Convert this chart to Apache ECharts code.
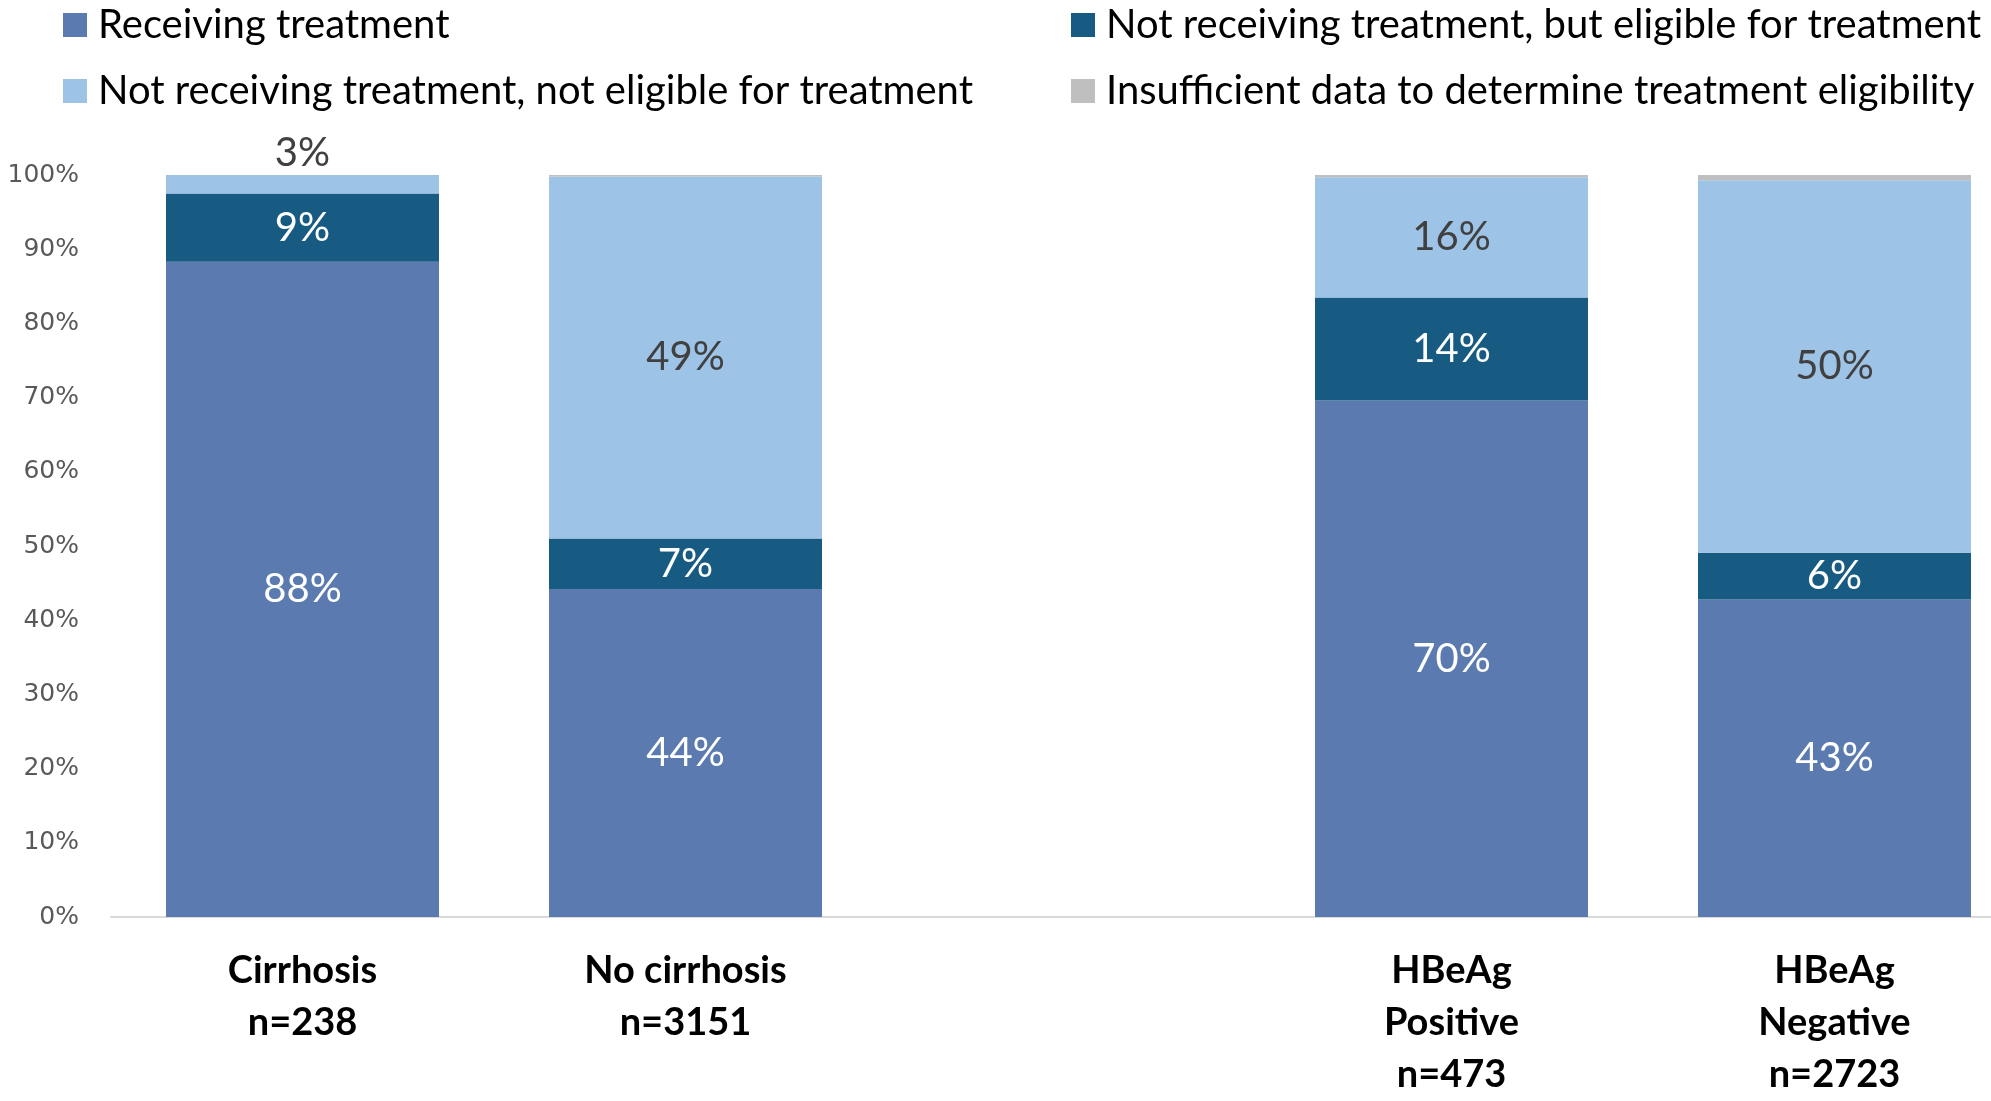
<!DOCTYPE html>
<html>
<head>
<meta charset="utf-8">
<script src="https://cdn.jsdelivr.net/npm/echarts@6/dist/echarts.min.js"></script>
<style>html,body{margin:0;padding:0;background:#fff;overflow:hidden}#c{width:2026px;height:100vh}</style>
</head>
<body>
<div id="c"></div>
<script>
const categories = ['Cirrhosis\nn=238', 'No cirrhosis\nn=3151', '', 'HBeAg\nPositive\nn=473', 'HBeAg\nNegative\nn=2723'];
const seriesNames = ['Receiving treatment', 'Not receiving treatment, but eligible for treatment', 'Not receiving treatment, not eligible for treatment', 'Insufficient data to determine treatment eligibility'];
const receiving = [88.3, 44.2, null, 69.6, 42.8];
const eligible = [9.2, 6.8, null, 13.9, 6.3];
const notEligible = [2.5, 48.8, null, 16.2, 50.2];
const insufficient = [0, 0.2, null, 0.3, 0.7];
const yTicks = [0, 10, 20, 30, 40, 50, 60, 70, 80, 90, 100];

const colors = ['#5B7BB0', '#175A82', '#9DC3E6', '#BFBFBF'];
const labelFont = 'Lato';

function mkSeries(name, data, color, labelColor, showLabel) {
  return {
    name: name, type: 'bar', stack: 'all', data: data, barWidth: 273,
    itemStyle: { color: color },
    label: {
      show: showLabel, position: 'inside', color: labelColor,
      fontFamily: labelFont, fontSize: 40,
      formatter: p => (p.value == null ? '' : Math.round(p.value) + '%')
    }
  };
}

const s3 = mkSeries(seriesNames[2], notEligible.map((v, i) => {
  if (i === 0) return { value: v, label: { position: 'top', distance: 2 } };
  return v;
}), colors[2], '#404040', true);

const legendText = { fontFamily: labelFont, fontSize: 40, color: '#000', lineHeight: 40, padding: [0, 0, 0, 6] };

const chart = echarts.init(document.getElementById('c'));
chart.setOption({
  animation: false,
  legend: [{
    orient: 'vertical', left: 58, top: 0, itemWidth: 24, itemHeight: 24, itemGap: 26,
    icon: 'rect',
    data: [seriesNames[0], seriesNames[2]],
    textStyle: legendText
  }, {
    orient: 'vertical', left: 1066, top: 0, itemWidth: 24, itemHeight: 24, itemGap: 26,
    icon: 'rect',
    data: [seriesNames[1], seriesNames[3]],
    textStyle: legendText
  }],
  grid: { left: 111, right: 0, top: '15.9%', bottom: '15.9%', containLabel: false },
  xAxis: {
    type: 'category', data: categories,
    axisLine: { lineStyle: { color: '#D9D9D9', width: 2 } },
    axisTick: { show: false },
    axisLabel: { interval: 0, margin: 28, fontFamily: labelFont, fontWeight: 'bold', fontSize: 38, lineHeight: 52, color: '#000' }
  },
  yAxis: {
    type: 'value', min: 0, max: 100, interval: 10,
    splitLine: { show: false },
    axisLine: { show: false }, axisTick: { show: false },
    axisLabel: { margin: 32, fontFamily: 'DejaVu Sans', fontSize: 25, color: '#595959', formatter: v => yTicks.includes(v) ? v + '%' : '' }
  },
  series: [
    mkSeries(seriesNames[0], receiving, colors[0], '#fff', true),
    mkSeries(seriesNames[1], eligible, colors[1], '#fff', true),
    s3,
    mkSeries(seriesNames[3], insufficient, colors[3], '#fff', false)
  ]
});
</script>
</body>
</html>
